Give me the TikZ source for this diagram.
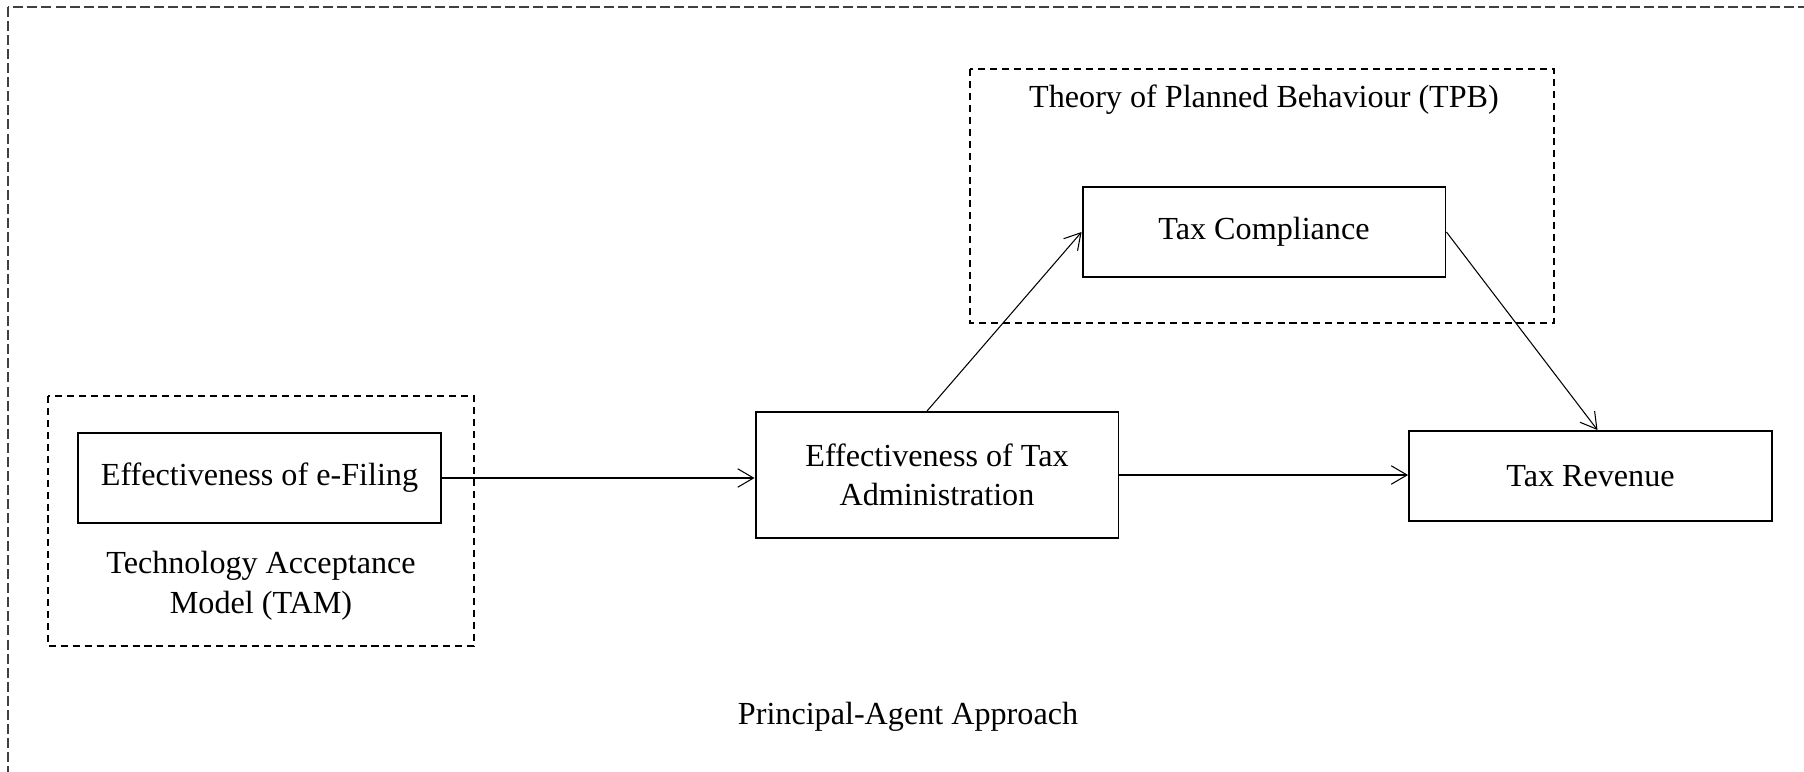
\documentclass[tikz,border=0pt]{standalone}
\usepackage{fontspec}
\setmainfont{Liberation Serif}
\usetikzlibrary{arrows.meta}
\begin{document}
\begin{tikzpicture}[x=0.02cm,y=-0.02cm,
  every node/.style={font=\fontsize{18.3}{22.5}\selectfont, align=center, inner sep=0pt},
  varbox/.style={draw, line width=1.1pt, minimum width=7.26cm, minimum height=1.8cm},
  theorybox/.style={draw, dashed, line width=1.1pt, dash pattern=on 4pt off 2.8pt},
  link/.style={line width=0.6pt, -{Straight Barb[length=9pt,width=10.5pt,line width=0.6pt]}}]
  \useasboundingbox (0,0) rectangle (1804,771);
  \fill[white] (0,0) rectangle (1804,771);
  % outer frame, running off the page on the right and bottom
  \begin{scope}
    \clip (0,0) rectangle (1804,771);
    \draw[line width=0.8pt, black!75, dash pattern=on 5.7pt off 2.3pt] (8,7) rectangle (1830,800);
  \end{scope}
  % theory frames
  \draw[theorybox] (48,396) rectangle (474,646);
  \draw[theorybox] (970,69) rectangle (1554,323);
  \node (tam) at (261,586) {Technology Acceptance\\Model (TAM)};
  \node (tpb) at (1264,100) {Theory of Planned Behaviour (TPB)};
  % variables
  \node[varbox] (efile) at (259.5,478) {Effectiveness of e-Filing};
  \node[varbox, minimum height=2.52cm] (admin) at (937,475) {Effectiveness of Tax\\Administration};
  \node[varbox] (comp) at (1264,232) {Tax Compliance};
  \node[varbox] (rev) at (1590.5,476) {Tax Revenue};
  \node (pa) at (908,717) {Principal-Agent Approach};
  % relations
  \draw[link] (efile.east) -- (efile.east -| admin.west);
  \draw[link] (admin.east) -- (admin.east -| rev.west);
  \draw[link] ([xshift=-0.2cm]admin.north) -- (comp.west);
  \draw[link] (comp.east) -- ([xshift=0.14cm]rev.north);
\end{tikzpicture}
\end{document}
